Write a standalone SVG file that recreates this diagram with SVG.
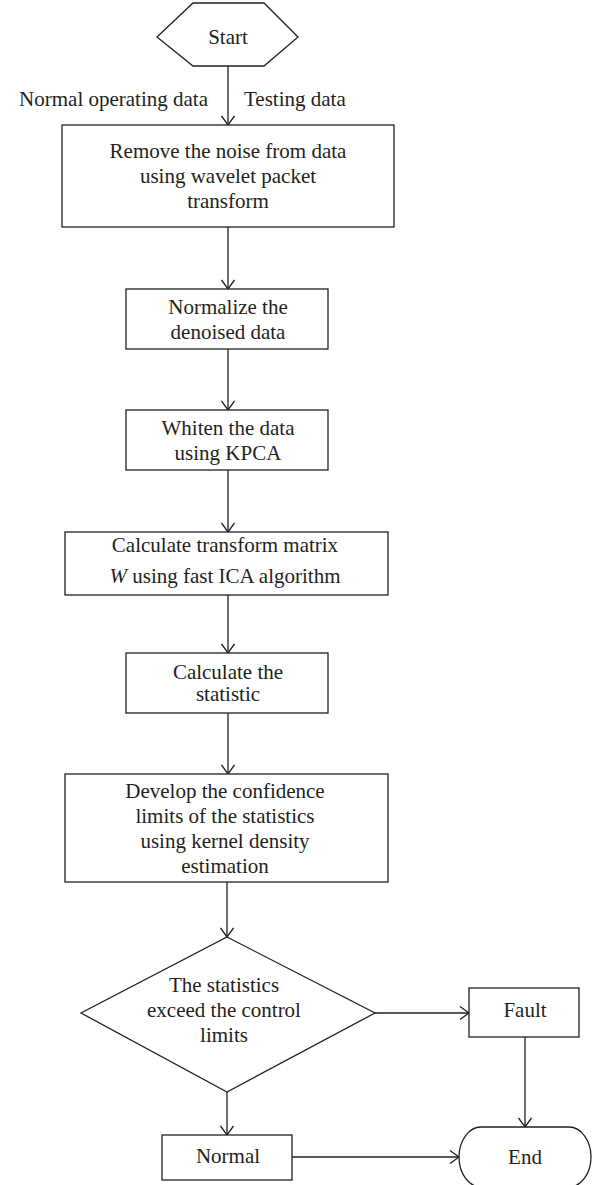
<svg xmlns="http://www.w3.org/2000/svg" width="598" height="1185" viewBox="0 0 598 1185">
  <style>
    .shape { fill: #ffffff; stroke: #231f20; stroke-width: 1.3; }
    .link { fill: none; stroke: #231f20; stroke-width: 1.3; }
    text { font-family: "Liberation Serif", "Times New Roman", serif; font-size: 21px; fill: #231f20; }
    .c { text-anchor: middle; }
  </style>
  <defs>
    <marker id="arrow" viewBox="0 0 10 14" refX="10" refY="7" markerWidth="10" markerHeight="14" markerUnits="userSpaceOnUse" orient="auto">
      <polyline points="1,0.5 10,7 1,13.5" fill="none" stroke="#231f20" stroke-width="1.3"/>
    </marker>
  </defs>
  <rect width="598" height="1185" fill="#ffffff"/>

  <g id="connectors">
    <line class="link" x1="228" y1="66" x2="228" y2="125" marker-end="url(#arrow)"/>
    <line class="link" x1="228" y1="227" x2="228" y2="289" marker-end="url(#arrow)"/>
    <line class="link" x1="228" y1="349" x2="228" y2="410" marker-end="url(#arrow)"/>
    <line class="link" x1="228" y1="470" x2="228" y2="532" marker-end="url(#arrow)"/>
    <line class="link" x1="228" y1="595" x2="228" y2="653" marker-end="url(#arrow)"/>
    <line class="link" x1="228" y1="713" x2="228" y2="774" marker-end="url(#arrow)"/>
    <line class="link" x1="227" y1="882" x2="227" y2="937" marker-end="url(#arrow)"/>
    <line class="link" x1="375" y1="1013" x2="469" y2="1013" marker-end="url(#arrow)"/>
    <line class="link" x1="525" y1="1037" x2="525" y2="1127" marker-end="url(#arrow)"/>
    <line class="link" x1="227" y1="1092" x2="227" y2="1135" marker-end="url(#arrow)"/>
    <line class="link" x1="292" y1="1157" x2="459" y2="1157" marker-end="url(#arrow)"/>
    <text x="208" y="106" text-anchor="end">Normal operating data</text>
    <text x="244" y="106">Testing data</text>
  </g>

  <g id="start">
    <polygon class="shape" points="157,37 193,3 264,3 298,37 264,66 193,66"/>
    <text class="c" x="228" y="44">Start</text>
  </g>

  <g id="denoise">
    <rect class="shape" x="62" y="125" width="332" height="102"/>
    <text class="c" x="228" y="158">Remove the noise from data</text>
    <text class="c" x="228" y="183">using wavelet packet</text>
    <text class="c" x="228" y="208">transform</text>
  </g>

  <g id="normalize">
    <rect class="shape" x="126" y="289" width="202" height="60"/>
    <text class="c" x="228" y="314">Normalize the</text>
    <text class="c" x="228" y="339">denoised data</text>
  </g>

  <g id="whiten">
    <rect class="shape" x="126" y="410" width="202" height="60"/>
    <text class="c" x="228" y="435">Whiten the data</text>
    <text class="c" x="228" y="460">using KPCA</text>
  </g>

  <g id="ica">
    <rect class="shape" x="65" y="532" width="323" height="63"/>
    <text class="c" x="225" y="552">Calculate transform matrix</text>
    <text class="c" x="225" y="583"><tspan font-style="italic">W</tspan> using fast ICA algorithm</text>
  </g>

  <g id="statistic">
    <rect class="shape" x="126" y="653" width="202" height="60"/>
    <text class="c" x="228" y="679">Calculate the</text>
    <text class="c" x="228" y="701">statistic</text>
  </g>

  <g id="limits">
    <rect class="shape" x="65" y="774" width="323" height="108"/>
    <text class="c" x="225" y="798">Develop the confidence</text>
    <text class="c" x="225" y="823">limits of the statistics</text>
    <text class="c" x="225" y="848">using kernel density</text>
    <text class="c" x="225" y="873">estimation</text>
  </g>

  <g id="decision">
    <polygon class="shape" points="227,937 375,1013 227,1092 81,1013"/>
    <text class="c" x="224" y="992">The statistics</text>
    <text class="c" x="224" y="1017">exceed the control</text>
    <text class="c" x="224" y="1042">limits</text>
  </g>

  <g id="fault">
    <rect class="shape" x="469" y="988" width="110" height="49"/>
    <text class="c" x="525" y="1017">Fault</text>
  </g>

  <g id="normal">
    <rect class="shape" x="162" y="1135" width="130" height="45"/>
    <text class="c" x="228" y="1163">Normal</text>
  </g>

  <g id="end">
    <path class="shape" d="M481,1127 H569 A22,30 0 0 1 569,1187 H481 A22,30 0 0 1 481,1127 Z"/>
    <text class="c" x="525" y="1164">End</text>
  </g>
</svg>
